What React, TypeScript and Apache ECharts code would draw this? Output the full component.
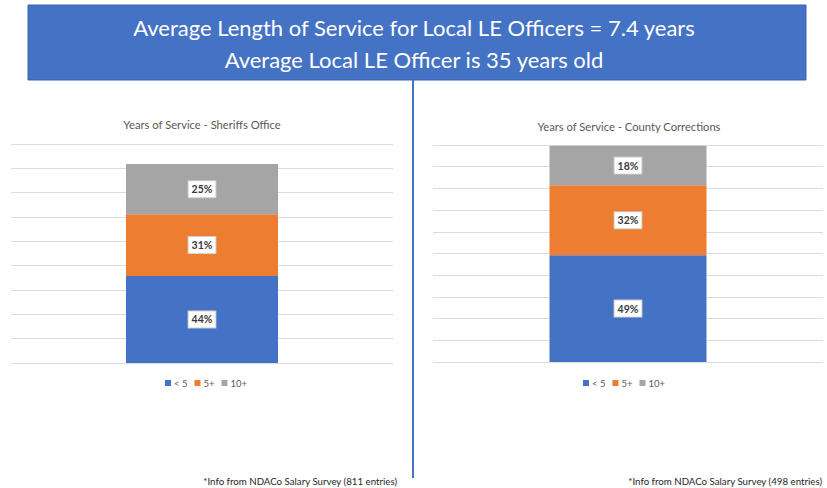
import React, { useEffect, useRef } from "react";
import * as echarts from "echarts";

const categories = ["All"];
const groups = ["< 5", "5+", "10+"];
const groupColors = ["#4472C4", "#ED7D31", "#A5A5A5"];
const sheriffCounts = [358, 253, 207];
const correctionsCounts = [246, 161, 91];
const sheriffTicks = { min: 0, max: 900, interval: 100 };
const correctionsTicks = { min: 0, max: 500, interval: 50 };
const headerLines = [
  "Average Length of Service for Local LE Officers = 7.4 years",
  "Average Local LE Officer is 35 years old",
];
const chartTitles = ["Years of Service - Sheriffs Office", "Years of Service - County Corrections"];
const footnotes = [
  "*Info from NDACo Salary Survey (811 entries)",
  "*Info from NDACo Salary Survey (498 entries)",
];

const FONT = "Lato, 'Open Sans', sans-serif";

function pctLabel(counts: number[], i: number) {
  const total = counts.reduce((a, b) => a + b, 0);
  return Math.round((counts[i] / total) * 100) + "%";
}

function buildSeries(counts: number[], axis: number, stack: string, barWidth: number) {
  return groups.map((g, i) => ({
    name: g,
    type: "bar",
    stack,
    xAxisIndex: axis,
    yAxisIndex: axis,
    barWidth,
    itemStyle: { color: groupColors[i] },
    label: {
      show: true,
      position: "inside",
      formatter: () => pctLabel(counts, i),
      color: "#3a3a3a",
      fontSize: 10.5,
      fontWeight: "bold",
      fontFamily: FONT,
      backgroundColor: "#ffffff",
      borderColor: "#cfcfcf",
      borderWidth: 1,
      padding: [3, 3, 2, 3],
    },
    data: categories.map(() => counts[i]),
  }));
}

function yAxis(gridIndex: number, t: { min: number; max: number; interval: number }) {
  return {
    type: "value",
    gridIndex,
    min: t.min,
    max: t.max,
    interval: t.interval,
    axisLabel: { show: false },
    axisLine: { show: false },
    axisTick: { show: false },
    splitLine: { show: true, lineStyle: { color: "#dcdcdc", width: 1.2 } },
  };
}

function xAxis(gridIndex: number) {
  return {
    type: "category",
    gridIndex,
    data: categories,
    axisLabel: { show: false },
    axisLine: { show: false },
    axisTick: { show: false },
  };
}

function legend(left: number) {
  return {
    data: groups,
    left,
    top: 378,
    padding: 0,
    orient: "horizontal",
    icon: "rect",
    itemWidth: 6,
    itemHeight: 6,
    itemGap: 7,
    textStyle: { color: "#595959", fontSize: 9.5, fontFamily: FONT, padding: [0, 0, 0, -2] },
  };
}

export default function App() {
  const ref = useRef<HTMLDivElement>(null);
  useEffect(() => {
    if (!ref.current) return;
    const chart = echarts.init(ref.current, null, { renderer: "svg" });
    chart.setOption({
      animation: false,
      backgroundColor: "#ffffff",
      grid: [
        { left: 11, top: 144, width: 382, height: 219 },
        { left: 433, top: 145, width: 390, height: 217 },
      ],
      xAxis: [xAxis(0), xAxis(1)],
      yAxis: [yAxis(0, sheriffTicks), yAxis(1, correctionsTicks)],
      legend: [legend(165), legend(583)],
      series: [
        ...buildSeries(sheriffCounts, 0, "sheriff", 152),
        ...buildSeries(correctionsCounts, 1, "corrections", 157),
      ],
      graphic: [
        {
          type: "rect",
          shape: { x: 28, y: 5, width: 778, height: 75 },
          style: { fill: "#4472C4", stroke: "#3764B4", lineWidth: 1 },
        },
        {
          type: "text",
          x: 414,
          y: 27,
          style: {
            text: headerLines[0],
            fill: "#ffffff",
            fontSize: 22,
            fontFamily: FONT,
            textAlign: "center",
            textVerticalAlign: "middle",
          },
        },
        {
          type: "text",
          x: 414,
          y: 59,
          style: {
            text: headerLines[1],
            fill: "#ffffff",
            fontSize: 22,
            fontFamily: FONT,
            textAlign: "center",
            textVerticalAlign: "middle",
          },
        },
        {
          type: "line",
          shape: { x1: 413, y1: 80, x2: 413, y2: 478 },
          style: { stroke: "#4472C4", lineWidth: 2 },
        },
        {
          type: "text",
          x: 202,
          y: 124,
          style: {
            text: chartTitles[0],
            fill: "#595959",
            fontSize: 11.2,
            fontFamily: FONT,
            textAlign: "center",
            textVerticalAlign: "middle",
          },
        },
        {
          type: "text",
          x: 629,
          y: 126,
          style: {
            text: chartTitles[1],
            fill: "#595959",
            fontSize: 11.2,
            fontFamily: FONT,
            textAlign: "center",
            textVerticalAlign: "middle",
          },
        },
        {
          type: "text",
          x: 397,
          y: 481,
          style: {
            text: footnotes[0],
            fill: "#262626",
            fontSize: 9.7,
            fontFamily: FONT,
            textAlign: "right",
            textVerticalAlign: "middle",
          },
        },
        {
          type: "text",
          x: 822,
          y: 481,
          style: {
            text: footnotes[1],
            fill: "#262626",
            fontSize: 9.7,
            fontFamily: FONT,
            textAlign: "right",
            textVerticalAlign: "middle",
          },
        },
      ],
    });
    return () => chart.dispose();
  }, []);
  return (
    <div
      ref={ref}
      style={{ position: "absolute", left: 0, top: 0, width: 827, height: 488, background: "#fff" }}
    />
  );
}
